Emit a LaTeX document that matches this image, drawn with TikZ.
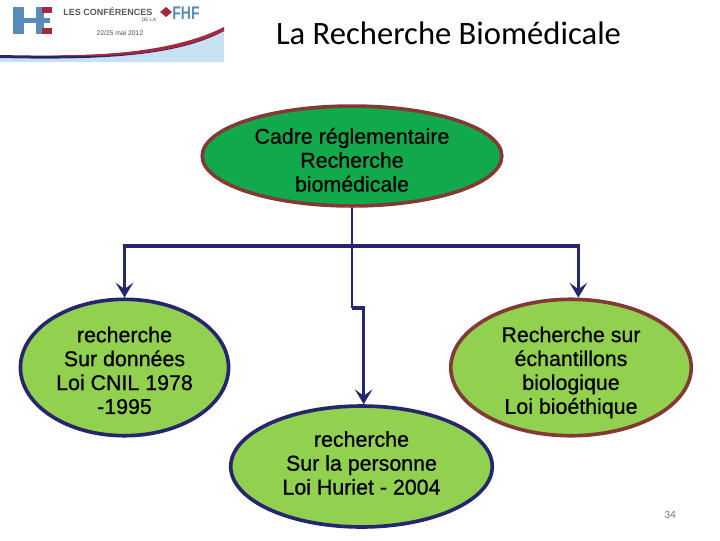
\documentclass[tikz,border=0pt]{standalone}
\usepackage{fontspec}
\setmainfont{Liberation Sans}
\newfontfamily\titlefont{Carlito}
\newfontfamily\ovalfont[FakeBold=0.7]{Liberation Sans}
\usetikzlibrary{arrows.meta}
\usetikzlibrary{shapes.geometric}
\definecolor{navy}{RGB}{38,38,110}
\definecolor{brownred}{RGB}{130,58,52}
\definecolor{darkgreen}{RGB}{18,168,76}
\definecolor{lightgreen}{RGB}{146,208,80}
\definecolor{logoblue}{RGB}{90,140,185}
\definecolor{logored}{RGB}{165,40,60}
\definecolor{logopale}{RGB}{200,225,242}
\tikzset{
	oval/.style={ellipse, draw=navy, fill=lightgreen, line width=2.6pt, inner xsep=0pt, inner ysep=-12pt, align=center, font=\ovalfont\fontsize{15.2}{17}\selectfont},
	sink/.style={execute at end node={\rule[-#1]{0pt}{0pt}}},
	link/.style={draw=navy, line width=2.2pt},
	arrowlink/.style={link, -{Stealth[length=10.5pt, width=12.5pt, inset=4.5pt]}}
}
\begin{document}
\begin{tikzpicture}[x=.025cm, y=-.025cm]
	\useasboundingbox (0,0) rectangle (720,540);
	% logo
	\fill[logopale] (0,62) -- (0,58) .. controls (90,60) and (175,58) .. (224,31) -- (224,62) -- cycle;
	\fill[navy] (0,55) .. controls (90,57) and (175,55) .. (224,29) -- (224,31) .. controls (175,58) and (90,60) .. (0,58) -- cycle;
	\fill[logored] (50,55) .. controls (100,56) and (175,52) .. (224,27) -- (224,31) .. controls (175,56) and (100,58) .. (50,55) -- cycle;
	\fill[logoblue] (13,7) rectangle (24,34);
	\fill[logoblue] (36,7) rectangle (44,34);
	\fill[logoblue] (13,18) rectangle (50,23);
	\fill[logored] (42,7) rectangle (52,13);
	\fill[logored] (42,28) rectangle (52,34);
	\node[font=\bfseries\fontsize{6.4}{8}\selectfont, text=black!65] (confs) at (108,12) {LES CONFÉRENCES};
	\node[font=\bfseries\fontsize{10}{12}\selectfont, text=logoblue, yscale=1.3] (fhf) at (186,13) {FHF};
	\fill[logored] (166,7) -- (172,12) -- (166,17) -- (160,12) -- cycle;
	\node[font=\fontsize{3.5}{4}\selectfont, text=black!70] (dela) at (149,20) {DE LA};
	\node[font=\fontsize{4.8}{6}\selectfont, text=black!70] (dates) at (120,33) {22/25 mai 2012};

	\node[font=\titlefont\fontsize{23.2}{26}\selectfont] (title) at (448.5,33) {La Recherche Biomédicale};
	\node[font=\titlefont\fontsize{8}{10}\selectfont, text=black!55] (page) at (670,515) {34};

	\node[oval, draw=brownred, fill=darkgreen, minimum width=213pt, minimum height=71pt] (cadre) at (352,156) {\rule{0pt}{16.7pt}Cadre réglementaire\\Recherche\\biomédicale};
	\node[oval, minimum width=148pt, minimum height=97pt] (donnees) at (124.5,367.5) {\rule{0pt}{15.2pt}recherche\\Sur données\\Loi CNIL 1978\\-1995};
	\node[oval, draw=brownred, minimum width=171pt, minimum height=97pt] (echantillons) at (571,367.5) {\rule{0pt}{18pt}Recherche sur\\échantillons\\biologique\\Loi bioéthique};
	\node[oval, sink=5.2pt, minimum width=186pt, minimum height=86pt] (personne) at (361.5,466.5) {recherche\\Sur la personne\\Loi Huriet - 2004};

	\coordinate (hub) at (352,246);
	\coordinate (elbow) at (352,308);
	\draw[link, line width=1.8pt] (cadre.south) -- (hub);
	\draw[arrowlink] (hub) -| (donnees.north);
	\draw[arrowlink] (hub) -| (echantillons.84);
	\draw[link, line width=1.8pt] (hub) -- (elbow);
	\draw[arrowlink] (elbow) -| (personne.88);
\end{tikzpicture}
\end{document}
